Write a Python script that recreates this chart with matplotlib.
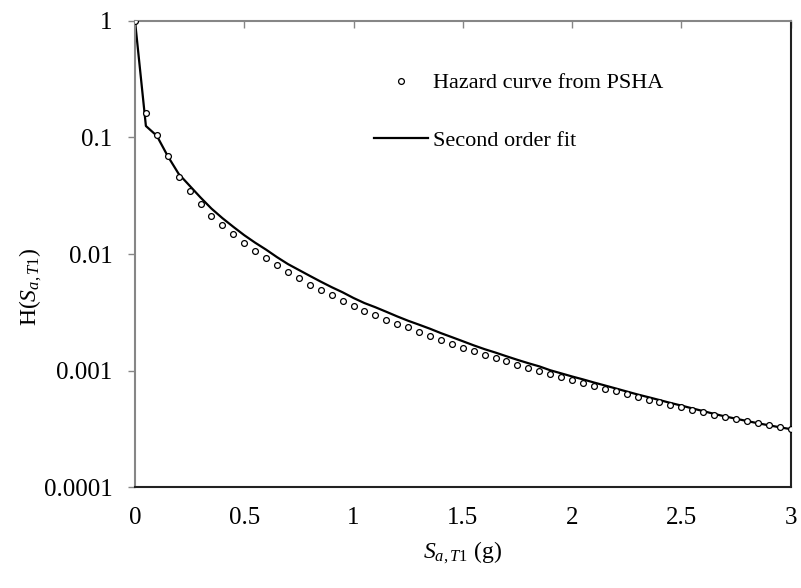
import matplotlib
matplotlib.use("Agg")
import matplotlib.pyplot as plt

# Spectral acceleration grid (g)
sa = [0.00, 0.05, 0.10, 0.15, 0.20, 0.25, 0.30, 0.35, 0.40, 0.45,
      0.50, 0.55, 0.60, 0.65, 0.70, 0.75, 0.80, 0.85, 0.90, 0.95,
      1.00, 1.05, 1.10, 1.15, 1.20, 1.25, 1.30, 1.35, 1.40, 1.45,
      1.50, 1.55, 1.60, 1.65, 1.70, 1.75, 1.80, 1.85, 1.90, 1.95,
      2.00, 2.05, 2.10, 2.15, 2.20, 2.25, 2.30, 2.35, 2.40, 2.45,
      2.50, 2.55, 2.60, 2.65, 2.70, 2.75, 2.80, 2.85, 2.90, 2.95,
      3.00]

# Hazard curve from PSHA
hazard_psha = [1.0, 0.163, 0.105, 0.0685, 0.046, 0.0345, 0.0268, 0.0213, 0.0176, 0.0148,
               0.0124, 0.0107, 0.0093, 0.0080, 0.0070, 0.00620, 0.00548, 0.00492, 0.00442, 0.00399,
               0.00360, 0.00327, 0.00298, 0.00273, 0.00252, 0.00235, 0.00214, 0.00198, 0.00183, 0.00170,
               0.00158, 0.00147, 0.00137, 0.00129, 0.00120, 0.00113, 0.00106, 0.00100, 0.000935, 0.000880,
               0.000830, 0.000785, 0.000742, 0.000702, 0.000665, 0.000628, 0.000595, 0.000566, 0.000537, 0.000512,
               0.000489, 0.000465, 0.000442, 0.000420, 0.000400, 0.000385, 0.000369, 0.000354, 0.000341, 0.000329,
               0.000317]

# Second order fit
hazard_fit = [1.0, 0.125, 0.103, 0.069, 0.0486, 0.0385, 0.0305, 0.0245, 0.0203, 0.0171,
              0.0145, 0.0125, 0.0109, 0.0094, 0.0082, 0.0073, 0.0065, 0.0058, 0.0052, 0.0047,
              0.0042, 0.0038, 0.0035, 0.0032, 0.00292, 0.00268, 0.00248, 0.00229, 0.00210, 0.00194,
              0.00179, 0.00165, 0.00153, 0.00143, 0.00133, 0.00124, 0.00116, 0.00109, 0.00101, 0.00095,
              0.000893, 0.000843, 0.000793, 0.000748, 0.000705, 0.000664, 0.000626, 0.000593, 0.000561, 0.000530,
              0.000503, 0.000476, 0.000451, 0.000427, 0.000406, 0.000388, 0.000371, 0.000355, 0.000341, 0.000328,
              0.000316]

yticks = [0.0001, 0.001, 0.01, 0.1, 1]
yticklabels = ['0.0001', '0.001', '0.01', '0.1', '1']
xticks = [0, 0.5, 1, 1.5, 2, 2.5, 3]
xticklabels = ['0', '0.5', '1', '1.5', '2', '2.5', '3']

plt.rcParams['font.family'] = ['Liberation Serif', 'DejaVu Serif']
plt.rcParams['mathtext.fontset'] = 'custom'
plt.rcParams['mathtext.rm'] = 'Liberation Serif'
plt.rcParams['mathtext.it'] = 'Liberation Serif:italic'

fig = plt.figure(figsize=(8.01, 5.88), dpi=100)
ax = fig.add_axes([0.1685, 0.171, 0.8185, 0.794])

ax.plot(sa, hazard_psha, linestyle='none', marker='o', markersize=4.2,
        markerfacecolor='white', markeredgecolor='black', markeredgewidth=0.9,
        label='Hazard curve from PSHA', zorder=3)
ax.plot(sa, hazard_fit, color='black', linewidth=1.6, label='Second order fit', zorder=2)

ax.set_yscale('log')
ax.set_xlim(0, 3)
ax.set_ylim(0.0001, 1)
ax.set_yticks(yticks)
ax.set_yticklabels(yticklabels)
ax.minorticks_off()
ax.set_xticks(xticks)
ax.set_xticklabels(xticklabels)

# Excel style: axis lines gray, plot area border dark
for side in ['top', 'left']:
    ax.spines[side].set_color('#868686')
    ax.spines[side].set_linewidth(1.5)
for side in ['bottom', 'right']:
    ax.spines[side].set_color('#222222')
    ax.spines[side].set_linewidth(1.5)

ax.tick_params(axis='y', direction='out', length=5, width=1, color='#868686',
               labelsize=18, pad=11)
ax.tick_params(axis='x', top=True, bottom=False, labeltop=False, labelbottom=True,
               direction='in', length=5, width=1, color='#868686', labelsize=18, pad=14)

ax.set_xlabel(r'$S_{a,T\mathit{1}}$ (g)', fontsize=17)
ax.set_ylabel(r'H($S_{a,T\mathit{1}}$)', fontsize=17)
ax.xaxis.set_label_coords(0.5, -0.112)
ax.yaxis.set_label_coords(-0.138, 0.43)

ax.legend(loc='upper left', bbox_to_anchor=(0.365, 0.888), frameon=False,
          fontsize=16, handlelength=2.4, handletextpad=0.25, labelspacing=1.65,
          borderpad=0, borderaxespad=0)

plt.savefig('out.png', dpi=100)
